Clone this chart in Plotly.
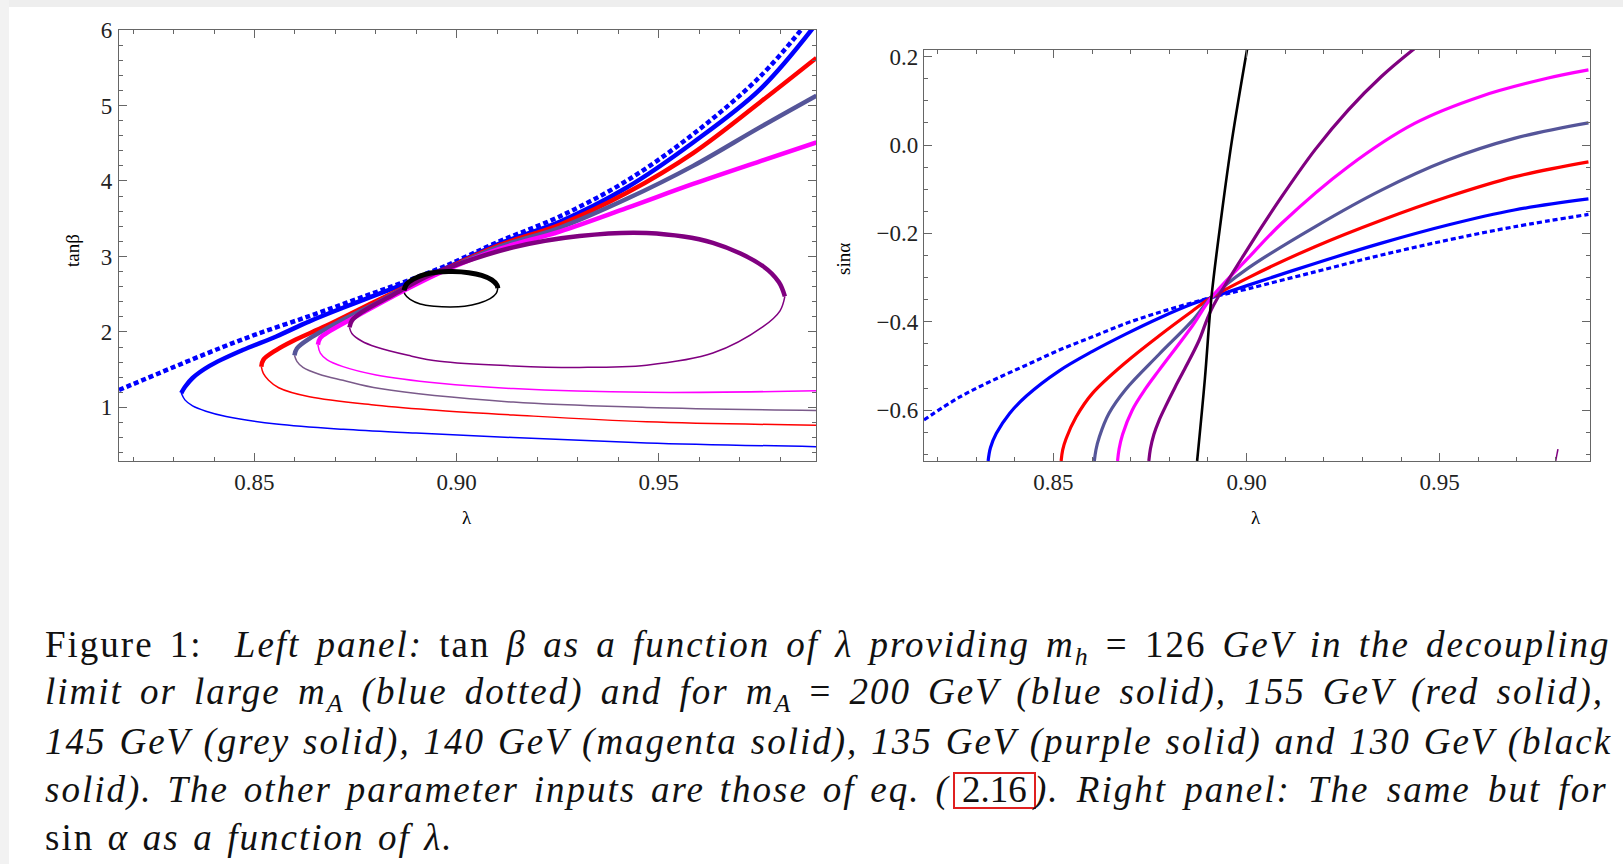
import plotly.graph_objects as go

W, H = 1623, 864

# ---------------- left panel: tan(beta) versus lambda ----------------
# decoupling limit / large m_A (blue dotted)
lam_dec = [0.8165, 0.8389, 0.8500, 0.8636, 0.8750, 0.8859, 0.8966, 0.9106, 0.9255, 0.9420, 0.9585, 0.9750, 0.9855]
tb_dec = [1.23, 1.73, 1.96, 2.21, 2.43, 2.64, 2.86, 3.20, 3.53, 4.00, 4.62, 5.38, 6.02]

# m_A = 200 GeV (blue): upper (thick) and lower (thin) branches
lam_200_up = [0.8319, 0.8328, 0.8347, 0.8389, 0.8471, 0.8554, 0.8636, 0.8719, 0.8801, 0.8859, 0.8966, 0.9106, 0.9255, 0.9420, 0.9585, 0.9750, 0.9882]
tb_200_up = [1.19, 1.27, 1.39, 1.55, 1.76, 1.94, 2.14, 2.32, 2.49, 2.61, 2.83, 3.17, 3.46, 3.91, 4.51, 5.21, 6.03]
lam_200_lo = [0.8319, 0.8328, 0.8347, 0.8380, 0.8430, 0.8554, 0.8720, 0.8900, 0.9140, 0.9470, 0.9890]
tb_200_lo = [1.19, 1.10, 1.02, 0.95, 0.88, 0.78, 0.71, 0.66, 0.60, 0.53, 0.48]

# m_A = 155 GeV (red)
lam_155_up = [0.8517, 0.8522, 0.8554, 0.8595, 0.8677, 0.8760, 0.8859, 0.8966, 0.9106, 0.9255, 0.9420, 0.9585, 0.9750, 0.9890]
tb_155_up = [1.54, 1.63, 1.76, 1.88, 2.08, 2.30, 2.56, 2.82, 3.15, 3.42, 3.84, 4.37, 5.04, 5.63]
lam_155_lo = [0.8517, 0.8522, 0.8535, 0.8560, 0.8636, 0.8801, 0.8958, 0.9140, 0.9470, 0.9890]
tb_155_lo = [1.54, 1.45, 1.36, 1.26, 1.14, 1.03, 0.96, 0.90, 0.81, 0.765]

# m_A = 145 GeV (grey)
lam_145_up = [0.8599, 0.8605, 0.8636, 0.8719, 0.8801, 0.8859, 0.8966, 0.9106, 0.9255, 0.9420, 0.9585, 0.9750, 0.9890]
tb_145_up = [1.69, 1.78, 1.91, 2.16, 2.38, 2.55, 2.81, 3.13, 3.38, 3.76, 4.20, 4.71, 5.13]
lam_145_lo = [0.8599, 0.8605, 0.8620, 0.8660, 0.8719, 0.8810, 0.9140, 0.9470, 0.9890]
tb_145_lo = [1.69, 1.61, 1.53, 1.44, 1.36, 1.25, 1.07, 1.00, 0.96]

# m_A = 140 GeV (magenta)
lam_140_up = [0.8657, 0.8663, 0.8686, 0.8760, 0.8842, 0.8966, 0.9106, 0.9255, 0.9420, 0.9585, 0.9750, 0.9890]
tb_140_up = [1.83, 1.92, 2.01, 2.23, 2.47, 2.80, 3.10, 3.33, 3.64, 3.96, 4.26, 4.51]
lam_140_lo = [0.8657, 0.8663, 0.8680, 0.8719, 0.8801, 0.8958, 0.9140, 0.9470, 0.9890]
tb_140_lo = [1.83, 1.72, 1.63, 1.54, 1.43, 1.32, 1.25, 1.20, 1.22]

# m_A = 135 GeV (purple): a closed loop
lam_135_up = [0.8735, 0.8741, 0.8768, 0.8842, 0.8925, 0.8974, 0.9140, 0.9304, 0.9470, 0.9634, 0.9758, 0.9797, 0.9812]
tb_135_up = [2.06, 2.15, 2.27, 2.49, 2.73, 2.84, 3.12, 3.27, 3.31, 3.18, 2.87, 2.66, 2.47]
lam_135_lo = [0.8735, 0.8741, 0.8765, 0.8801, 0.8880, 0.8958, 0.9140, 0.9304, 0.9470, 0.9634, 0.9758, 0.9800, 0.9812]
tb_135_lo = [2.06, 1.98, 1.88, 1.80, 1.69, 1.61, 1.55, 1.53, 1.56, 1.72, 2.07, 2.28, 2.47]

# m_A = 130 GeV (black): small closed loop
lam_130_up = [0.8870, 0.8876, 0.8893, 0.8920, 0.8955, 0.8990, 0.9030, 0.9062, 0.9087, 0.9100, 0.9102]
tb_130_up = [2.55, 2.63, 2.70, 2.76, 2.795, 2.80, 2.785, 2.75, 2.69, 2.62, 2.58]
lam_130_lo = [0.9102, 0.9098, 0.9083, 0.9055, 0.9020, 0.8985, 0.8945, 0.8910, 0.8885, 0.8872, 0.8870]
tb_130_lo = [2.58, 2.51, 2.44, 2.38, 2.34, 2.33, 2.34, 2.37, 2.43, 2.50, 2.55]

# ---------------- right panel: sin(alpha) versus lambda ----------------
lam_dec_r = [0.8165, 0.8258, 0.8344, 0.8430, 0.8515, 0.8601, 0.8687, 0.8773, 0.8859, 0.8909, 0.9005, 0.9177, 0.9349, 0.9521, 0.9693, 0.9885]
sa_dec = [-0.622, -0.570, -0.532, -0.498, -0.464, -0.434, -0.404, -0.379, -0.357, -0.345, -0.325, -0.287, -0.249, -0.215, -0.185, -0.157]

lam_200_r = [0.8331, 0.8337, 0.8352, 0.8387, 0.8430, 0.8515, 0.8601, 0.8687, 0.8773, 0.8859, 0.8909, 0.9005, 0.9177, 0.9349, 0.9521, 0.9693, 0.9885]
sa_200 = [-0.715, -0.685, -0.653, -0.607, -0.568, -0.511, -0.467, -0.428, -0.392, -0.360, -0.345, -0.317, -0.268, -0.222, -0.181, -0.147, -0.122]

lam_155_r = [0.8520, 0.8524, 0.8533, 0.8559, 0.8601, 0.8687, 0.8773, 0.8859, 0.8909, 0.9005, 0.9177, 0.9349, 0.9521, 0.9693, 0.9885]
sa_155 = [-0.715, -0.690, -0.664, -0.615, -0.562, -0.492, -0.432, -0.376, -0.345, -0.300, -0.230, -0.170, -0.117, -0.072, -0.038]

lam_145_r = [0.8606, 0.8610, 0.8619, 0.8644, 0.8687, 0.8773, 0.8859, 0.8909, 0.9005, 0.9177, 0.9349, 0.9521, 0.9693, 0.9885]
sa_145 = [-0.715, -0.690, -0.660, -0.607, -0.553, -0.474, -0.398, -0.345, -0.278, -0.185, -0.102, -0.034, 0.015, 0.050]

lam_140_r = [0.8666, 0.8670, 0.8679, 0.8704, 0.8738, 0.8773, 0.8859, 0.8909, 0.9005, 0.9091, 0.9263, 0.9435, 0.9606, 0.9778, 0.9885]
sa_140 = [-0.715, -0.688, -0.655, -0.600, -0.552, -0.510, -0.410, -0.345, -0.255, -0.177, -0.049, 0.049, 0.110, 0.151, 0.170]

lam_135_r = [0.8747, 0.8751, 0.8760, 0.8773, 0.8790, 0.8815, 0.8842, 0.8876, 0.8909, 0.9005, 0.9091, 0.9177, 0.9263, 0.9349, 0.9430, 0.9445]
sa_135 = [-0.715, -0.688, -0.655, -0.624, -0.592, -0.548, -0.503, -0.444, -0.372, -0.232, -0.117, -0.011, 0.079, 0.155, 0.215, 0.225]
lam_135_r2 = [0.9800, 0.9806]
sa_135_2 = [-0.716, -0.688]

lam_130_r = [0.8872, 0.8892, 0.8909, 0.8935, 0.8962, 0.9003]
sa_130 = [-0.715, -0.530, -0.345, -0.160, 0.010, 0.225]

# ---------------- styling ----------------
BLUE, RED, GREY, MAGENTA, PURPLE, BLACK = "#0000ff", "#ff0000", "#555599", "#ff00ff", "#800080", "#000000"
GREY_LO = "#7a5a8a"
THICK, THIN, RW = 4.5, 1.5, 3.2

fig = go.Figure()


def add(x, y, color, width, xa="x", ya="y", dash=None, smooth=1.0):
    fig.add_trace(go.Scatter(
        x=x, y=y, mode="lines", xaxis=xa, yaxis=ya, showlegend=False, hoverinfo="skip",
        line=dict(color=color, width=width, shape="spline", smoothing=smooth, dash=dash),
    ))


# left panel curves: thin lower branches first, thick upper branches on top
add(lam_200_lo, tb_200_lo, BLUE, THIN)
add(lam_155_lo, tb_155_lo, RED, THIN)
add(lam_145_lo, tb_145_lo, GREY_LO, THIN)
add(lam_140_lo, tb_140_lo, MAGENTA, THIN)
add(lam_135_lo, tb_135_lo, PURPLE, THIN)
add(lam_130_lo, tb_130_lo, BLACK, THIN)
add(lam_dec, tb_dec, BLUE, THICK, dash="5px,3px")
add(lam_200_up, tb_200_up, BLUE, THICK)
add(lam_155_up, tb_155_up, RED, THICK)
add(lam_145_up, tb_145_up, GREY, THICK)
add(lam_140_up, tb_140_up, MAGENTA, THICK)
add(lam_135_up, tb_135_up, PURPLE, THICK)
add(lam_130_up, tb_130_up, BLACK, 5)

# right panel curves
add(lam_dec_r, sa_dec, BLUE, RW, "x2", "y2", dash="5px,3px")
add(lam_200_r, sa_200, BLUE, RW, "x2", "y2")
add(lam_155_r, sa_155, RED, RW, "x2", "y2")
add(lam_145_r, sa_145, GREY, RW, "x2", "y2")
add(lam_140_r, sa_140, MAGENTA, RW, "x2", "y2")
add(lam_135_r, sa_135, PURPLE, RW, "x2", "y2")
add(lam_135_r2, sa_135_2, PURPLE, 1.5, "x2", "y2")
add(lam_130_r, sa_130, BLACK, 2.6, "x2", "y2")

FRAME = "#666666"
TICKFONT = dict(family="Liberation Serif", size=23, color="#222222")


def frame_axis(domain, rng, dtick, tick0, minor_dtick, fmt, anchor, standoff):
    return dict(
        domain=domain, range=rng, anchor=anchor, automargin=False,
        tickmode="linear", tick0=tick0, dtick=dtick, tickformat=fmt,
        ticks="inside", ticklen=8, tickwidth=1, tickcolor=FRAME,
        showline=True, linecolor=FRAME, linewidth=1.2, mirror="allticks",
        showgrid=False, zeroline=False, tickfont=TICKFONT, ticklabelstandoff=standoff,
        minor=dict(dtick=minor_dtick, tick0=tick0, ticks="inside", ticklen=4,
                   tickwidth=1, tickcolor=FRAME, showgrid=False),
    )


lam_range = [0.8165, 0.9889]
fig.update_layout(
    width=W, height=H, margin=dict(l=0, r=0, t=0, b=0, pad=0, autoexpand=False),
    paper_bgcolor="white", plot_bgcolor="white",
    xaxis=frame_axis([119 / W, 816 / W], lam_range, 0.05, 0.85, 0.01, ".2f", "y", 0),
    yaxis=frame_axis([1 - 461 / H, 1 - 30 / H], [0.29, 6.0], 1, 0, 0.2, "d", "x", 1),
    xaxis2=frame_axis([924 / W, 1590 / W], lam_range, 0.05, 0.85, 0.01, ".2f", "y2", 0),
    yaxis2=frame_axis([1 - 461 / H, 1 - 50 / H], [-0.715, 0.215], 0.2, 0, 0.05, ".1f", "x2", 0),
)

# thin grey border of the page at the top and left
fig.add_shape(type="rect", xref="paper", yref="paper", x0=0, x1=1, y0=1 - 7 / H, y1=1,
              line=dict(width=0), fillcolor="#eeeeee", layer="below")
fig.add_shape(type="rect", xref="paper", yref="paper", x0=0, x1=9 / W, y0=0, y1=1,
              line=dict(width=0), fillcolor="#f2f2f2", layer="below")

# axis titles
LBL = dict(family="Liberation Serif", size=19, color="#000000")
for txt, xp, yp, ang in [("tanβ", 72, 251, -90), ("sinα", 843, 259, -90),
                         ("λ", 467, 517, 0), ("λ", 1256, 517, 0)]:
    fig.add_annotation(text=txt, x=xp / W, y=1 - yp / H, xref="paper", yref="paper",
                       xanchor="center", yanchor="middle", textangle=ang,
                       showarrow=False, font=LBL)

# caption, each line spread out to the full text width
CAP = dict(family="Liberation Serif", size=37, color="#111111")


def spaced(text, ls, ws):
    return f'<span style="letter-spacing:{ls}px;word-spacing:{ws}px">{text}</span>'


LS = 2.0
cap_lines = [
    ("Figure 1:  <i>Left panel:</i> tan <i>β as a function of λ providing m</i><sub><i>h</i></sub> = 126 <i>GeV in the decoupling</i>", 4.9, 647),
    ("<i>limit or large m</i><sub><i>A</i></sub><i> (blue dotted) and for m</i><sub><i>A</i></sub> = <i>200 GeV (blue solid), 155 GeV (red solid),</i>", 5.9, 694.5),
    ("<i>145 GeV (grey solid), 140 GeV (magenta solid), 135 GeV (purple solid) and 130 GeV (black</i>", 1.7, 742),
    ("sin <i>α as a function of λ.</i>", 2.3, 837),
]
for line, ws, yc in cap_lines:
    fig.add_annotation(text=spaced(line, LS, ws), x=43 / W, y=1 - yc / H, xref="paper", yref="paper",
                       xanchor="left", yanchor="middle", showarrow=False, font=CAP)

# fourth line in three pieces around the boxed equation reference
fig.add_annotation(text=spaced("<i>solid). The other parameter inputs are those of eq. (</i>", LS, 3.6),
                   x=43 / W, y=1 - 789.5 / H, xref="paper", yref="paper",
                   xanchor="left", yanchor="middle", showarrow=False, font=CAP)
fig.add_annotation(text="2.16", x=994 / W, y=1 - 789.5 / H, xref="paper", yref="paper",
                   xanchor="center", yanchor="middle", showarrow=False, font=CAP)
fig.add_annotation(text=spaced("<i>). Right panel: The same but for</i>", LS, 6.0),
                   x=1610 / W, y=1 - 789.5 / H, xref="paper", yref="paper",
                   xanchor="right", yanchor="middle", showarrow=False, font=CAP)
fig.add_shape(type="rect", xref="paper", yref="paper", x0=954 / W, x1=1035 / W,
              y0=1 - 808 / H, y1=1 - 773 / H, line=dict(color="#e02020", width=2))

fig.write_html("out.html", config={"displayModeBar": False})
